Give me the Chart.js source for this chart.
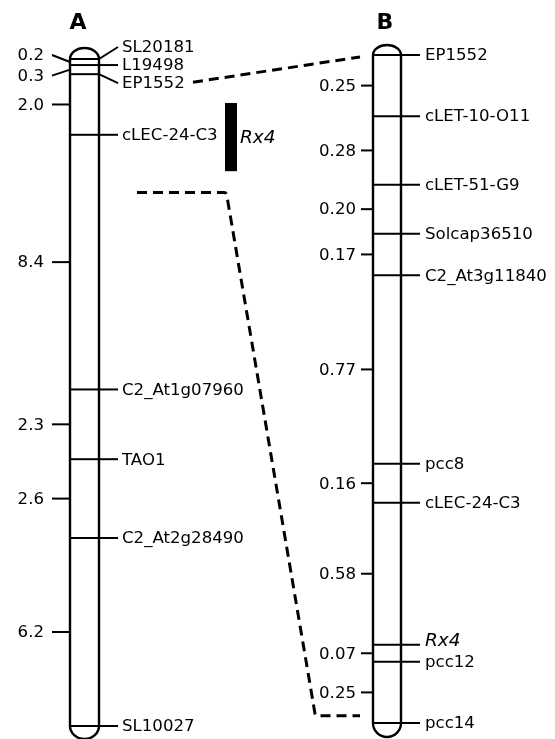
<!DOCTYPE html>
<html>
<head>
<meta charset="utf-8">
<script src="https://cdn.jsdelivr.net/npm/chart.js@4"></script>
<style>
  html, body { margin: 0; padding: 0; background: #fff; }
  #wrap { width: 555px; height: 739px; position: relative; }
</style>
</head>
<body>
<div id="wrap"><canvas id="map"></canvas></div>
<script>
// Linkage group A (cM between neighbouring markers)
const markersA = ['SL20181', 'L19498', 'EP1552', 'cLEC-24-C3', 'C2_At1g07960', 'TAO1', 'C2_At2g28490', 'SL10027'];
const intervalsA = [0.2, 0.3, 2.0, 8.4, 2.3, 2.6, 6.2];

// Linkage group B (fine map)
const markersB = ['EP1552', 'cLET-10-O11', 'cLET-51-G9', 'Solcap36510', 'C2_At3g11840', 'pcc8', 'cLEC-24-C3', 'Rx4', 'pcc12', 'pcc14'];
const intervalsB = [0.25, 0.28, 0.20, 0.17, 0.77, 0.16, 0.58, 0.07, 0.25];

// Rx4 interval on map A and the zoom connectors (cM)
const rx4SpanA = [1.45, 3.7];
const linkTopA = 0.5, linkTopB = 0;
const linkRxA = 4.4, linkRxB = 2.70;

// cumulative positions
function cumulative(steps) {
    const out = [0];
    steps.forEach(s => out.push(+(out[out.length - 1] + s).toFixed(3)));
    return out;
}
const posA = cumulative(intervalsA);
const posB = cumulative(intervalsB);

const FONT = '"DejaVu Sans", sans-serif';
const LABEL = '16.6px ' + FONT;
const ITALIC = 'italic 18.5px ' + FONT;

// Draws the chromosomes, markers and labels using the chart scales
const linkageMap = {
    id: 'linkageMap',
    afterDraw(chart) {
        const ctx = chart.ctx;
        const x = chart.scales.x;
        const yA = chart.scales.yA;
        const yB = chart.scales.yB;
        const px = v => x.getPixelForValue(v);

        ctx.save();
        ctx.strokeStyle = '#000';
        ctx.fillStyle = '#000';
        ctx.lineCap = 'butt';

        // chromosome outline
        function chromosome(xl, xr, top, bot, capTop, capBot) {
            const cx = (xl + xr) / 2, r = (xr - xl) / 2;
            ctx.beginPath();
            ctx.moveTo(xl, top);
            ctx.lineTo(xl, bot);
            ctx.ellipse(cx, bot, r, capBot, 0, Math.PI, 0, true);
            ctx.lineTo(xr, top);
            ctx.ellipse(cx, top, r, capTop, 0, 0, Math.PI, true);
            ctx.closePath();
            ctx.lineWidth = 2.4;
            ctx.stroke();
        }
        function line(x1, y1, x2, y2, w) {
            ctx.beginPath();
            ctx.moveTo(x1, y1);
            ctx.lineTo(x2, y2);
            ctx.lineWidth = w || 2;
            ctx.stroke();
        }

        // ---- group A ----
        const aL = px(70), aR = px(99);
        const aTop = yA.getPixelForValue(posA[0]);
        const aBot = yA.getPixelForValue(posA[posA.length - 1]);
        chromosome(aL, aR, aTop, aBot, 11, 13);

        ctx.font = LABEL;
        ctx.textBaseline = 'middle';
        ctx.textAlign = 'left';
        const labelOffA = [-12, 0, 9, 0, 0, 0, 0, 0];
        markersA.forEach((m, i) => {
            const y = yA.getPixelForValue(posA[i]);
            line(aL, y, aR, y, 2);
            const ly = y + labelOffA[i];
            line(aR, y, px(118), ly, 2);
            ctx.fillText(m, px(122), ly + 1);
        });

        ctx.textAlign = 'right';
        const tickOffA = [-7, 6, 0, 0, 0, 0, 0];
        intervalsA.forEach((d, i) => {
            const ym = (yA.getPixelForValue(posA[i]) + yA.getPixelForValue(posA[i + 1])) / 2;
            const ly = ym + tickOffA[i];
            line(px(52), ly, aL, ym, 2);
            ctx.fillText(d.toFixed(1), px(44), ly + 1);
        });

        // Rx4 bar
        const r1 = yA.getPixelForValue(rx4SpanA[0]), r2 = yA.getPixelForValue(rx4SpanA[1]);
        ctx.fillRect(px(225), r1, px(237) - px(225), r2 - r1);
        ctx.font = ITALIC;
        ctx.textAlign = 'left';
        ctx.fillText('Rx4', px(240), (r1 + r2) / 2 + 1);

        // ---- group B ----
        const bL = px(373), bR = px(401);
        const bTop = yB.getPixelForValue(posB[0]);
        const bBot = yB.getPixelForValue(posB[posB.length - 1]);
        chromosome(bL, bR, bTop, bBot, 10, 14);

        markersB.forEach((m, i) => {
            const y = yB.getPixelForValue(posB[i]);
            line(bL, y, px(420), y, 2);
            ctx.font = m === 'Rx4' ? ITALIC : LABEL;
            ctx.fillText(m, px(425), y + (m === 'Rx4' ? -4 : 1));
        });

        ctx.font = LABEL;
        ctx.textAlign = 'right';
        intervalsB.forEach((d, i) => {
            const ym = (yB.getPixelForValue(posB[i]) + yB.getPixelForValue(posB[i + 1])) / 2;
            line(px(361), ym, bL, ym, 2);
            ctx.fillText(d.toFixed(2), px(356), ym + 1);
        });

        // ---- connectors ----
        ctx.setLineDash([10, 6]);
        ctx.lineWidth = 3;
        ctx.beginPath();
        ctx.moveTo(px(193), yA.getPixelForValue(linkTopA) + 8);
        ctx.lineTo(px(360), yB.getPixelForValue(linkTopB) + 2);
        ctx.stroke();

        const yr1 = yA.getPixelForValue(linkRxA), yr2 = yB.getPixelForValue(linkRxB);
        ctx.beginPath();
        ctx.moveTo(px(137), yr1);
        ctx.lineTo(px(224), yr1);
        ctx.quadraticCurveTo(px(227), yr1, px(227), yr1 + 4);
        ctx.lineTo(px(315), yr2 - 2);
        ctx.lineTo(px(316), yr2);
        ctx.lineTo(px(360), yr2);
        ctx.stroke();
        ctx.setLineDash([]);

        // titles
        ctx.font = 'bold 22px ' + FONT;
        ctx.textAlign = 'center';
        ctx.textBaseline = 'alphabetic';
        ctx.fillText('A', px(78), 29);
        ctx.fillText('B', px(385), 29);

        ctx.restore();
    }
};

new Chart(document.getElementById('map'), {
    type: 'scatter',
    data: {
        datasets: [
            { label: 'A', data: posA.map(v => ({ x: 84.5, y: v })), yAxisID: 'yA', pointRadius: 0, showLine: false },
            { label: 'B', data: posB.map(v => ({ x: 387, y: v })), yAxisID: 'yB', pointRadius: 0, showLine: false }
        ]
    },
    options: {
        responsive: true,
        maintainAspectRatio: false,
        animation: false,
        layout: { padding: 0 },
        plugins: { legend: { display: false }, tooltip: { enabled: false } },
        scales: {
            x: { type: 'linear', min: 0, max: 555, display: false },
            // map A: 0 cM at 59px, 22 cM at 726px
            yA: { type: 'linear', reverse: true, min: -1.946, max: 22.429, display: false },
            // map B: 0 cM at 55px, 2.73 cM at 723px
            yB: { type: 'linear', reverse: true, min: -0.2248, max: 2.7954, display: false }
        }
    },
    plugins: [linkageMap]
});
</script>
</body>
</html>
